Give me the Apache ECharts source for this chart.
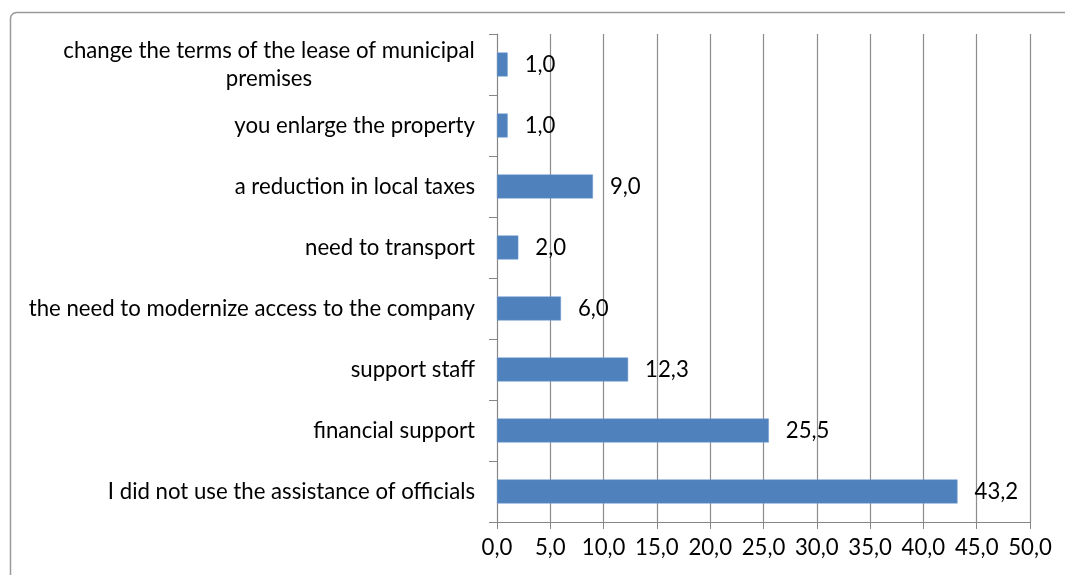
<!DOCTYPE html>
<html><head><meta charset="utf-8">
<script src="https://cdn.jsdelivr.net/npm/echarts@6/dist/echarts.min.js"></script>
<style>html,body{margin:0;padding:0;background:#fff}#c{width:1065px;height:575px}</style>
</head><body><div id="c"></div>
<script>
const categories = [
  "I did not use the assistance of officials",
  "financial support",
  "support staff",
  "the need to modernize access to the company",
  "need to transport",
  "a reduction in local taxes",
  "you enlarge the property",
  "change the terms of the lease of municipal\npremises"
];
const values = [43.2, 25.5, 12.3, 6.0, 2.0, 9.0, 1.0, 1.0];
const xTicks = [0, 5, 10, 15, 20, 25, 30, 35, 40, 45, 50];

const FONT = 'Lato';
const FS = 22.2;
const fmt = v => Number(v).toFixed(1).replace('.', ',');
const cvs = document.createElement('canvas').getContext('2d');
cvs.font = FS + 'px ' + FONT;
function w(t){ return Math.ceil(cvs.measureText(t).width); }

const chart = echarts.init(document.getElementById('c'));
chart.setOption({
  animation: false,
  backgroundColor: '#fff',
  graphic: [{
    type: 'rect', left: 8, top: 10,
    shape: { width: 1120, height: 620, r: 6 },
    style: { fill: 'none', stroke: '#9a9a9a', lineWidth: 1.5 },
    silent: true
  }],
  grid: { left: 497, right: 35, top: 34, bottom: 53, containLabel: false },
  xAxis: {
    type: 'value', min: xTicks[0], max: xTicks[xTicks.length - 1], interval: 5,
    axisLine: { show: true, lineStyle: { color: '#868686', width: 1 } },
    axisTick: { show: true, length: 7, lineStyle: { color: '#868686' } },
    splitLine: { show: true, lineStyle: { color: '#8c8c8c', width: 1.2 } },
    axisLabel: { formatter: fmt, fontFamily: FONT, fontSize: FS, color: '#000', margin: 15 }
  },
  yAxis: {
    type: 'category', data: categories,
    axisLine: { show: true, lineStyle: { color: '#868686', width: 1 } },
    axisTick: { show: true, length: 8, lineStyle: { color: '#868686' } },
    axisLabel: {
      fontFamily: FONT, fontSize: FS, color: '#000', margin: 22, lineHeight: 28,
      formatter: function (v) {
        if (v.indexOf('\n') < 0) return v;
        return v.split('\n').map(l => '{c|' + l + '}').join('\n');
      },
      rich: { c: { width: w('change the terms of the lease of municipal'), align: 'center', fontFamily: FONT, fontSize: FS, color: '#000', lineHeight: 28 } }
    }
  },
  series: [{
    type: 'bar', data: values, barWidth: 24,
    itemStyle: { color: '#4F81BD', borderColor: '#6d9bd2', borderWidth: 0.5 },
    label: { show: true, position: 'right', distance: 17, formatter: p => fmt(p.value),
      fontFamily: FONT, fontSize: FS, color: '#000' }
  }]
});
</script></body></html>
